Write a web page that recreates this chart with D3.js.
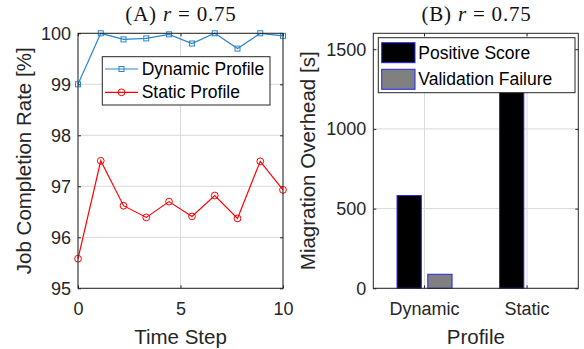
<!DOCTYPE html>
<html>
<head>
<meta charset="utf-8">
<script src="https://cdn.jsdelivr.net/npm/d3@7"></script>
<style>
  body { margin: 0; background: #fff; }
  svg { display: block; }
</style>
</head>
<body>
<div id="chart"></div>
<script>
// (A) job completion rate over time
const timeSteps = [0, 1.11, 2.22, 3.33, 4.44, 5.56, 6.67, 7.78, 8.89, 10];
const dynamicRate = [99.0, 100, 99.88, 99.9, 99.98, 99.8, 100, 99.7, 100, 99.95];
const staticRate = [95.58, 97.5, 96.62, 96.39, 96.7, 96.41, 96.82, 96.37, 97.49, 96.93];
const rateTicks = [95, 96, 97, 98, 99, 100];
const stepTicks = [0, 5, 10];

// (B) migration overhead per profile
const profiles = ['Dynamic', 'Static'];
const barSeries = ['Positive Score', 'Validation Failure'];
const positiveScore = [582, 1350];
const validationFailure = [88, 0];
const overheadTicks = [0, 500, 1000, 1500];

const W = 584, H = 349;
const axisColor = '#262626';
const gridColor = '#d9d9d9';
const sans = '"Liberation Sans", Arial, sans-serif';
const serif = '"Liberation Serif", "DejaVu Serif", serif';

const svg = d3.select('#chart').append('svg')
  .attr('width', W).attr('height', H);

function frame(g, w, h) {
  g.append('rect')
    .attr('x', 0).attr('y', 0).attr('width', w).attr('height', h)
    .attr('fill', 'none').attr('stroke', axisColor).attr('stroke-width', 1);
}

function styleAxis(a) {
  a.attr('font-family', sans).attr('font-size', 18);
  a.select('.domain').remove();
  a.selectAll('line').attr('stroke', axisColor);
  a.selectAll('text').attr('fill', axisColor);
}

function title(x, label) {
  const t = svg.append('text')
    .attr('x', x).attr('y', 21)
    .attr('text-anchor', 'middle')
    .attr('font-family', serif).attr('font-size', 21).attr('fill', '#111')
    .attr('letter-spacing', 0.8);
  t.append('tspan').text('(' + label + ') ');
  t.append('tspan').attr('font-style', 'italic').text('r');
  t.append('tspan').text(' = 0.75');
}

// ---------- panel A ----------
{
  const left = 78, top = 33.3, w = 205, h = 255;
  const g = svg.append('g').attr('transform', `translate(${left},${top})`);
  const x = d3.scaleLinear().domain([0, 10]).range([0, w]);
  const y = d3.scaleLinear().domain([95, 100]).range([h, 0]);

  // grid
  g.append('g').selectAll('line').data(stepTicks).join('line')
    .attr('x1', d => x(d)).attr('x2', d => x(d)).attr('y1', 0).attr('y2', h)
    .attr('stroke', gridColor);
  g.append('g').selectAll('line').data(rateTicks).join('line')
    .attr('x1', 0).attr('x2', w).attr('y1', d => y(d)).attr('y2', d => y(d))
    .attr('stroke', gridColor);

  g.append('g').attr('transform', `translate(0,${h})`)
    .call(d3.axisBottom(x).tickValues(stepTicks).tickFormat(d3.format('d')).tickSize(-3).tickPadding(14))
    .call(styleAxis);
  g.append('g')
    .call(d3.axisLeft(y).tickValues(rateTicks).tickFormat(d3.format('d')).tickSize(-3).tickPadding(7))
    .call(styleAxis);
  g.append('g')
    .call(d3.axisTop(x).tickValues(stepTicks).tickSize(-3).tickFormat(''))
    .call(styleAxis);
  g.append('g').attr('transform', `translate(${w},0)`)
    .call(d3.axisRight(y).tickValues(rateTicks).tickSize(-3).tickFormat(''))
    .call(styleAxis);

  const line = d3.line().x(d => x(d[0])).y(d => y(d[1]));
  const dyn = timeSteps.map((t, i) => [t, dynamicRate[i]]);
  const sta = timeSteps.map((t, i) => [t, staticRate[i]]);
  const blue = '#2a86cc', red = '#FF0000';

  g.append('path').datum(dyn).attr('d', line)
    .attr('fill', 'none').attr('stroke', blue).attr('stroke-width', 1.2);
  g.selectAll('.sq').data(dyn).join('rect').attr('class', 'sq')
    .attr('x', d => x(d[0]) - 2.5).attr('y', d => y(d[1]) - 2.5)
    .attr('width', 5).attr('height', 5)
    .attr('fill', 'none').attr('stroke', blue).attr('stroke-width', 1);

  g.append('path').datum(sta).attr('d', line)
    .attr('fill', 'none').attr('stroke', red).attr('stroke-width', 1.2);
  g.selectAll('.ci').data(sta).join('circle').attr('class', 'ci')
    .attr('cx', d => x(d[0])).attr('cy', d => y(d[1])).attr('r', 3.4)
    .attr('fill', 'none').attr('stroke', red).attr('stroke-width', 1);

  frame(g, w, h);

  // legend
  const lg = svg.append('g');
  lg.append('rect').attr('x', 102.3).attr('y', 56.7).attr('width', 167.7).attr('height', 48.3)
    .attr('fill', '#fff').attr('stroke', axisColor).attr('stroke-width', 1);
  const items = [
    { name: 'Dynamic Profile', color: blue, mark: 'sq', cy: 69 },
    { name: 'Static Profile', color: red, mark: 'ci', cy: 92.3 }
  ];
  items.forEach(it => {
    lg.append('line').attr('x1', 105).attr('x2', 138).attr('y1', it.cy).attr('y2', it.cy)
      .attr('stroke', it.color).attr('stroke-width', 1.2);
    if (it.mark === 'sq') {
      lg.append('rect').attr('x', 121.5 - 2.5).attr('y', it.cy - 2.5).attr('width', 5).attr('height', 5)
        .attr('fill', 'none').attr('stroke', it.color);
    } else {
      lg.append('circle').attr('cx', 121.5).attr('cy', it.cy).attr('r', 3.4)
        .attr('fill', 'none').attr('stroke', it.color);
    }
    lg.append('text').attr('x', 141.7).attr('y', it.cy).attr('dy', '0.35em')
      .attr('font-family', sans).attr('font-size', 17.5).attr('fill', '#000').text(it.name);
  });

  svg.append('text').attr('x', left + w / 2).attr('y', 344)
    .attr('text-anchor', 'middle').attr('font-family', sans).attr('font-size', 20.5)
    .attr('fill', axisColor).text('Time Step');
  svg.append('text').attr('transform', `translate(31,${top + h / 2}) rotate(-90)`)
    .attr('text-anchor', 'middle').attr('font-family', sans).attr('font-size', 20.5)
    .attr('fill', axisColor).text('Job Completion Rate [%]');
  title(181, 'A');
}

// ---------- panel B ----------
{
  const left = 373.3, top = 33.3, w = 205, h = 255;
  const g = svg.append('g').attr('transform', `translate(${left},${top})`);
  const x0 = d3.scaleBand().domain(profiles).range([0, w]).padding(0);
  const half = 27.5;
  const x1 = d3.scaleBand().domain(barSeries)
    .range([x0.bandwidth() / 2 - half, x0.bandwidth() / 2 + half]).paddingInner(0.21);
  const y = d3.scaleLinear().domain([0, 1600]).range([h, 0]);

  g.append('g').selectAll('line').data(profiles).join('line')
    .attr('x1', d => x0(d) + x0.bandwidth() / 2).attr('x2', d => x0(d) + x0.bandwidth() / 2)
    .attr('y1', 0).attr('y2', h).attr('stroke', gridColor);
  g.append('g').selectAll('line').data(overheadTicks).join('line')
    .attr('x1', 0).attr('x2', w).attr('y1', d => y(d)).attr('y2', d => y(d))
    .attr('stroke', gridColor);

  const fills = ['#000000', '#808080'];
  const values = [positiveScore, validationFailure];
  const rows = [];
  profiles.forEach((p, i) => barSeries.forEach((s, j) => rows.push({ p, s, v: values[j][i], fill: fills[j] })));
  g.selectAll('.bar').data(rows.filter(r => r.v > 0)).join('rect').attr('class', 'bar')
    .attr('x', d => x0(d.p) + x1(d.s)).attr('width', x1.bandwidth())
    .attr('y', d => y(d.v)).attr('height', d => h - y(d.v))
    .attr('fill', d => d.fill).attr('stroke', '#2424ff').attr('stroke-width', 1);

  g.append('g').attr('transform', `translate(0,${h})`)
    .call(d3.axisBottom(x0).tickSize(-3).tickPadding(14))
    .call(styleAxis);
  g.append('g')
    .call(d3.axisLeft(y).tickValues(overheadTicks).tickFormat(d3.format('d')).tickSize(-3).tickPadding(7))
    .call(styleAxis);
  g.append('g')
    .call(d3.axisTop(x0).tickSize(-3).tickFormat(''))
    .call(styleAxis);
  g.append('g').attr('transform', `translate(${w},0)`)
    .call(d3.axisRight(y).tickValues(overheadTicks).tickSize(-3).tickFormat(''))
    .call(styleAxis);

  frame(g, w, h);

  const lg = svg.append('g');
  lg.append('rect').attr('x', 378.3).attr('y', 37.7).attr('width', 196.7).attr('height', 55)
    .attr('fill', '#fff').attr('stroke', axisColor).attr('stroke-width', 1);
  barSeries.forEach((s, j) => {
    const cy = [52.7, 79.3][j];
    lg.append('rect').attr('x', 381.7).attr('y', cy - 10).attr('width', 33.3).attr('height', 20)
      .attr('fill', fills[j]).attr('stroke', '#2424ff').attr('stroke-width', 1);
    lg.append('text').attr('x', 418.3).attr('y', cy).attr('dy', '0.35em')
      .attr('font-family', sans).attr('font-size', 17.5).attr('fill', '#000').text(s);
  });

  svg.append('text').attr('x', left + w / 2).attr('y', 344)
    .attr('text-anchor', 'middle').attr('font-family', sans).attr('font-size', 20.5)
    .attr('fill', axisColor).text('Profile');
  svg.append('text').attr('transform', `translate(315,${top + h / 2}) rotate(-90)`)
    .attr('text-anchor', 'middle').attr('font-family', sans).attr('font-size', 20.5)
    .attr('fill', axisColor).text('Miagration Overhead [s]');
  title(476.5, 'B');
}
</script>
</body>
</html>
